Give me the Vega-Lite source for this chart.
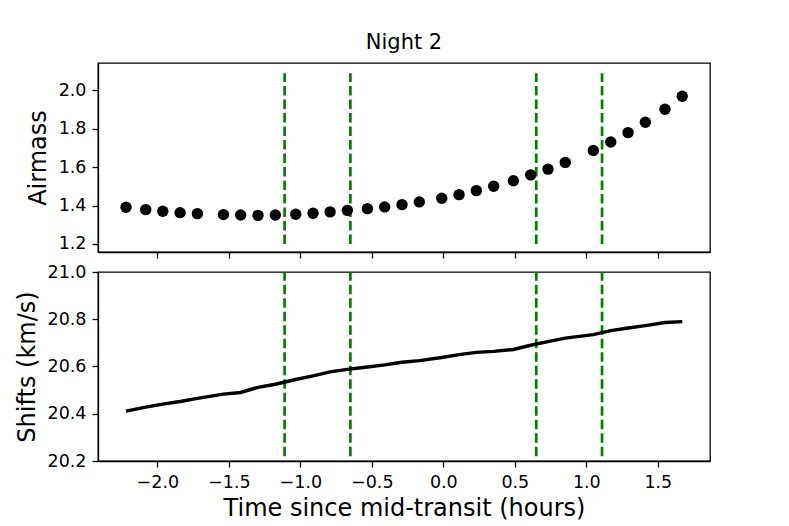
{
  "$schema": "https://vega.github.io/schema/vega-lite/v6.json",
  "padding": {"left": 14, "top": 31, "right": 79, "bottom": 0},
  "background": "white",
  "datasets": {
    "obs": [
      {"t": -2.219, "airmass": 1.391, "shift": 20.411},
      {"t": -2.081, "airmass": 1.379, "shift": 20.428},
      {"t": -1.962, "airmass": 1.370, "shift": 20.441},
      {"t": -1.841, "airmass": 1.363, "shift": 20.452},
      {"t": -1.720, "airmass": 1.358, "shift": 20.465},
      {"t": -1.538, "airmass": 1.353, "shift": 20.483},
      {"t": -1.417, "airmass": 1.351, "shift": 20.490},
      {"t": -1.296, "airmass": 1.349, "shift": 20.512},
      {"t": -1.175, "airmass": 1.351, "shift": 20.525},
      {"t": -1.032, "airmass": 1.355, "shift": 20.545},
      {"t": -0.911, "airmass": 1.360, "shift": 20.560},
      {"t": -0.792, "airmass": 1.367, "shift": 20.577},
      {"t": -0.671, "airmass": 1.375, "shift": 20.588},
      {"t": -0.531, "airmass": 1.384, "shift": 20.598},
      {"t": -0.410, "airmass": 1.393, "shift": 20.607},
      {"t": -0.289, "airmass": 1.405, "shift": 20.618},
      {"t": -0.168, "airmass": 1.419, "shift": 20.625},
      {"t": -0.011, "airmass": 1.438, "shift": 20.638},
      {"t": 0.110, "airmass": 1.457, "shift": 20.650},
      {"t": 0.231, "airmass": 1.478, "shift": 20.660},
      {"t": 0.352, "airmass": 1.501, "shift": 20.664},
      {"t": 0.490, "airmass": 1.529, "shift": 20.672},
      {"t": 0.611, "airmass": 1.560, "shift": 20.690},
      {"t": 0.732, "airmass": 1.590, "shift": 20.705},
      {"t": 0.853, "airmass": 1.625, "shift": 20.720},
      {"t": 1.049, "airmass": 1.687, "shift": 20.735},
      {"t": 1.171, "airmass": 1.731, "shift": 20.752},
      {"t": 1.292, "airmass": 1.780, "shift": 20.763},
      {"t": 1.413, "airmass": 1.834, "shift": 20.773},
      {"t": 1.550, "airmass": 1.902, "shift": 20.786},
      {"t": 1.671, "airmass": 1.970, "shift": 20.790}
    ],
    "contacts": [
      {"t": -1.11}, {"t": -0.65}, {"t": 0.65}, {"t": 1.11}
    ]
  },
  "vconcat": [
    {
      "width": 612,
      "height": 189,
      "title": {"text": "Night 2", "fontSize": 21, "fontWeight": "normal", "font": "DejaVu Sans", "frame": "group", "anchor": "middle", "offset": 10, "color": "black"},
      "layer": [
        {
          "data": {"name": "contacts"},
          "mark": {"type": "rule", "color": "#008000", "strokeWidth": 2.7, "strokeDash": [9.5, 4]},
          "encoding": {
            "x": {"field": "t", "type": "quantitative", "scale": {"domain": [-2.415, 1.865], "nice": false, "zero": false}},
            "y": {"datum": 1.2, "type": "quantitative"},
            "y2": {"datum": 2.09}
          }
        },
        {
          "data": {"name": "obs"},
          "mark": {"type": "circle", "color": "black", "size": 130, "opacity": 1},
          "encoding": {
            "x": {"field": "t", "type": "quantitative", "scale": {"domain": [-2.415, 1.865], "nice": false, "zero": false},
                  "axis": {"title": null, "labels": false, "values": [-2, -1.5, -1, -0.5, 0, 0.5, 1, 1.5]}},
            "y": {"field": "airmass", "type": "quantitative", "scale": {"domain": [1.158, 2.143], "nice": false, "zero": false},
                  "axis": {"title": "Airmass", "values": [1.2, 1.4, 1.6, 1.8, 2.0], "format": ".1f"}}
          }
        }
      ]
    },
    {
      "width": 612,
      "height": 189,
      "layer": [
        {
          "data": {"name": "contacts"},
          "mark": {"type": "rule", "color": "#008000", "strokeWidth": 2.7, "strokeDash": [9.5, 4]},
          "encoding": {
            "x": {"field": "t", "type": "quantitative", "scale": {"domain": [-2.415, 1.865], "nice": false, "zero": false}},
            "y": {"datum": 20.22, "type": "quantitative"},
            "y2": {"datum": 21.0}
          }
        },
        {
          "data": {"name": "obs"},
          "mark": {"type": "line", "color": "black", "strokeWidth": 3.4},
          "encoding": {
            "x": {"field": "t", "type": "quantitative", "scale": {"domain": [-2.415, 1.865], "nice": false, "zero": false},
                  "axis": {"title": "Time since mid-transit (hours)", "values": [-2, -1.5, -1, -0.5, 0, 0.5, 1, 1.5], "format": ".1f", "titlePadding": 6}},
            "y": {"field": "shift", "type": "quantitative", "scale": {"domain": [20.2, 21.0], "nice": false, "zero": false},
                  "axis": {"title": "Shifts (km/s)", "values": [20.2, 20.4, 20.6, 20.8, 21.0], "format": ".1f"}}
          }
        }
      ]
    }
  ],
  "config": {
    "font": "DejaVu Sans",
    "view": {"stroke": "black", "strokeWidth": 1.3},
    "concat": {"spacing": 2},
    "axis": {
      "grid": false,
      "domainColor": "black",
      "domainWidth": 1.3,
      "tickColor": "black",
      "tickWidth": 1.3,
      "tickSize": 6,
      "labelColor": "black",
      "labelFont": "DejaVu Sans",
      "labelFontSize": 17.5,
      "labelPadding": 6,
      "titleFont": "DejaVu Sans",
      "titleFontSize": 24,
      "titleFontWeight": "normal",
      "titleColor": "black",
      "titlePadding": 8
    }
  }
}
